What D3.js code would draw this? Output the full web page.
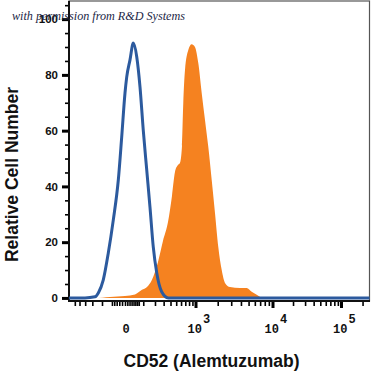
<!DOCTYPE html>
<html><head><meta charset="utf-8">
<script src="https://cdn.jsdelivr.net/npm/d3@7"></script>
<style>body{margin:0;background:#fff}svg{display:block}</style></head>
<body><svg id="c" width="371" height="372"></svg>
<script>
// ---- data ----
const yTickValues = [0, 20, 40, 60, 80, 100];
const yMinorTicks = [5,10,15,25,30,35,45,50,55,65,70,75,85,90,95,105];
const xMajorTicks = [1000, 10000, 100000];
const xMinorTicks = [-500,-400,-300,-200,-100,-50,-40,-30,-20,-10,0,10,20,30,40,50,60,70,
  100,200,300,400,500,600,700,800,900,
  2000,3000,4000,5000,6000,7000,8000,9000,
  20000,30000,40000,50000,60000,70000,80000,90000,200000];
const xTickValues = [0, 1000, 10000, 100000];
const xTickBases = ["0", "10", "10", "10"];
const xTickExps = ["", "3", "4", "5"];

// isotype control (blue outline)
const isoX = [-650,-303,-169,-134,-92.8,-67,-44,-23.7,-11.2,0,7.2,22,39,58,78,100,126,153,183,218,275,365,250000];
const isoY = [0,0,0.4,1.8,6.5,16.1,28,42.3,57.7,73.5,79.2,85.3,91.4,86.4,75.6,60.2,45.9,32.6,18.3,9,2.2,0,0];

// CD52 stained (orange fill)
const cdX = [-300,-169,-59,0,48,91,128,171,232,291,361,424,477,535,576,621,651,692,779,877,982,1095,1219,1352,1499,1665,1841,2036,2258,2491,2892,3891,4733,5476,6335,7601,9000,250000];
const cdY = [0,0,0.36,0.7,1.25,2.9,3.9,6.5,12.9,20.4,27.2,36.6,45.2,47.7,48.4,54.5,69.9,81.7,88.9,91.0,90,84.2,73.5,63.8,54.1,42.3,30.5,18.3,10,5.4,3.9,3.6,3.6,2.2,1.1,0,0,0];

const xTitle = "CD52 (Alemtuzumab)";
const yTitle = "Relative Cell Number";
const watermark = "with permission from R&D Systems";

// ---- scales ----
const x = d3.scaleSymlog().constant(137)
  .domain([-650, -100, 0, 1000, 10000, 100000, 250000])
  .range([69, 102, 125, 195.5, 272.5, 341, 369.5]);
const y = d3.scaleLinear().domain([-1.1, 106.5]).range([301, 1]);

const svg = d3.select("#c");
const blue = "#2c5a9e", orange = "#f58220";

// frame
svg.append("rect").attr("x", 69).attr("y", 1).attr("width", 300.5).attr("height", 300)
  .attr("fill", "none").attr("stroke", "#555").attr("stroke-width", 1.2);

// orange area
const cd = cdX.map((v, i) => [v, cdY[i]]);
svg.append("path").datum(cd)
  .attr("d", d3.area().x(d => x(d[0])).y0(y(0)).y1(d => y(d[1])).curve(d3.curveMonotoneX))
  .attr("fill", orange);

// axes
const gx = svg.append("g").attr("transform", "translate(0,301)");
gx.call(d3.axisBottom(x).tickValues(xMinorTicks).tickSize(5).tickFormat(""))
  .call(g => g.select(".domain").remove())
  .call(g => g.selectAll("line").attr("stroke", "#000").attr("stroke-width", 1.6));
const gx2 = svg.append("g").attr("transform", "translate(0,301)");
gx2.call(d3.axisBottom(x).tickValues(xMajorTicks).tickSize(7).tickFormat(""))
  .call(g => g.select(".domain").remove())
  .call(g => g.selectAll("line").attr("stroke", "#000").attr("stroke-width", 3));

const gy = svg.append("g").attr("transform", "translate(69,0)");
gy.call(d3.axisLeft(y).tickValues(yMinorTicks).tickSize(4).tickFormat(""))
  .call(g => g.select(".domain").remove())
  .call(g => g.selectAll("line").attr("stroke", "#000").attr("stroke-width", 1.6));
const gy2 = svg.append("g").attr("transform", "translate(69,0)");
gy2.call(d3.axisLeft(y).tickValues(yTickValues).tickSize(7).tickFormat(""))
  .call(g => g.select(".domain").remove())
  .call(g => g.selectAll("line").attr("stroke", "#000").attr("stroke-width", 3));

// axis lines
svg.append("line").attr("x1", 69).attr("x2", 69).attr("y1", 1).attr("y2", 302)
  .attr("stroke", "#111").attr("stroke-width", 2);
svg.append("line").attr("x1", 68).attr("x2", 370).attr("y1", 301).attr("y2", 301)
  .attr("stroke", "#111").attr("stroke-width", 2);

// blue line
const iso = isoX.map((v, i) => [v, isoY[i]]);
svg.append("path").datum(iso)
  .attr("d", d3.line().x(d => x(d[0])).y(d => y(d[1])).curve(d3.curveMonotoneX))
  .attr("fill", "none").attr("stroke", blue).attr("stroke-width", 3)
  .attr("stroke-linejoin", "round");

// y labels
svg.append("g").selectAll("text").data(yTickValues).join("text")
  .attr("x", 58).attr("y", d => y(d)).attr("dy", "0.36em")
  .attr("text-anchor", "end")
  .attr("font-family", "'Liberation Sans', Arial, sans-serif")
  .attr("font-weight", "bold").attr("font-size", 11.5).attr("fill", "#111")
  .text(d => d);

// x labels
const xl = svg.append("g").selectAll("text").data(xTickValues).join("text")
  .attr("x", (d, i) => xTickExps[i] ? x(d) - 8 : x(d) + 1)
  .attr("y", 333)
  .attr("text-anchor", (d, i) => xTickExps[i] ? "start" : "middle")
  .attr("font-family", "'Liberation Mono', 'Courier New', monospace")
  .attr("font-weight", "bold").attr("font-size", 12).attr("fill", "#111");
xl.append("tspan").text((d, i) => xTickBases[i]);
xl.append("tspan").attr("dx", 1).attr("dy", -10).text((d, i) => xTickExps[i]);

// titles
svg.append("text").attr("x", 211.5).attr("y", 367).attr("text-anchor", "middle")
  .attr("font-family", "'Liberation Sans', Arial, sans-serif")
  .attr("font-weight", "bold").attr("font-size", 17.5).attr("fill", "#111")
  .text(xTitle);
svg.append("text").attr("transform", "translate(17.5,174.5) rotate(-90)")
  .attr("text-anchor", "middle")
  .attr("font-family", "'Liberation Sans', Arial, sans-serif")
  .attr("font-weight", "bold").attr("font-size", 17.5).attr("fill", "#111")
  .text(yTitle);

// watermark
svg.append("text").attr("x", 12).attr("y", 20)
  .attr("font-family", "'Liberation Serif', 'DejaVu Serif', serif")
  .attr("font-style", "italic").attr("font-size", 13).attr("fill", "#1c2747")
  .attr("textLength", 173).attr("lengthAdjust", "spacingAndGlyphs")
  .text(watermark);
</script></body></html>
